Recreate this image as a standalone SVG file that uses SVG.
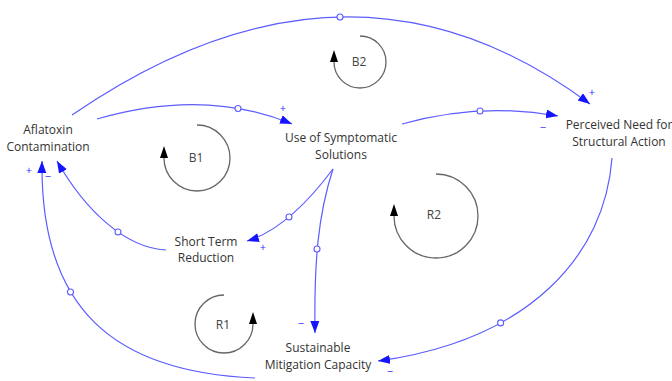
<svg xmlns="http://www.w3.org/2000/svg" width="672" height="381" viewBox="0 0 672 381">
<style>
.node text{font-family:"Open Sans","Noto Sans","DejaVu Sans",sans-serif;font-size:12px;fill:#333;text-anchor:middle}
.link{fill:none;stroke:#5c5cff;stroke-width:1.2;marker-end:url(#arr)}
.dot{fill:#fff;stroke:#5c5cff;stroke-width:1.1}
.pol{font-family:"Open Sans","Noto Sans","DejaVu Sans",sans-serif;font-size:11px;fill:#2a2aff;text-anchor:middle}
.loop path{fill:none;stroke:#666;stroke-width:1.3;marker-end:url(#larr)}
.loop text{font-family:"Open Sans","Noto Sans","DejaVu Sans",sans-serif;font-size:12px;fill:#444;text-anchor:middle}
</style>
<defs>
<marker id="arr" markerUnits="userSpaceOnUse" markerWidth="14" markerHeight="10" refX="12" refY="4.5" orient="auto"><path d="M0,0 L12,4.5 L0,9 z" fill="#1414ff"/></marker>
<marker id="larr" markerUnits="userSpaceOnUse" markerWidth="14" markerHeight="10" refX="0" refY="4" orient="auto"><path d="M0,0 L12,4 L0,8 z" fill="#000"/></marker>
</defs>
<rect width="672" height="381" fill="#fff"/>
<g id="connectors">
<path class="link" d="M72,115 Q349,-75.5 590,104"/>
<circle class="dot" cx="340" cy="17" r="3"/>
<path class="link" d="M97,119 Q205,88 292,124"/>
<circle class="dot" cx="238" cy="108.5" r="3"/>
<path class="link" d="M402,124 Q480,102 558,116"/>
<circle class="dot" cx="480" cy="111" r="3"/>
<path class="link" d="M333,169 Q288,229 247,241"/>
<circle class="dot" cx="289" cy="217" r="3"/>
<path class="link" d="M333,169 C318,215 314,262 315,333"/>
<circle class="dot" cx="317" cy="249" r="3"/>
<path class="link" d="M166,250 C125,248 85,210 57,161"/>
<circle class="dot" cx="118" cy="232" r="3"/>
<path class="link" d="M255,378 C115,372 40,310 42,161"/>
<circle class="dot" cx="70.5" cy="292" r="3"/>
<path class="link" d="M612,158 C605,255 530,340 378,361"/>
<circle class="dot" cx="500.6" cy="322.9" r="3"/>
<text class="pol" x="592" y="96">+</text>
<text class="pol" x="283" y="112">+</text>
<text class="pol" x="543" y="131">−</text>
<text class="pol" x="263" y="251">+</text>
<text class="pol" x="301" y="327">−</text>
<text class="pol" x="29" y="174">+</text>
<text class="pol" x="48" y="180">−</text>
<text class="pol" x="390" y="375">−</text>
</g>
<g id="aflatoxin" class="node"><text x="48" y="134">Aflatoxin</text><text x="48" y="151">Contamination</text></g>
<g id="symptomatic" class="node"><text x="341" y="142">Use of Symptomatic</text><text x="341" y="159">Solutions</text></g>
<g id="perceived" class="node"><text x="619" y="129">Perceived Need for</text><text x="619" y="146">Structural Action</text></g>
<g id="shortterm" class="node"><text x="206" y="246">Short Term</text><text x="206" y="262">Reduction</text></g>
<g id="sustainable" class="node"><text x="318" y="352">Sustainable</text><text x="318" y="369">Mitigation Capacity</text></g>
<g id="loopB2" class="loop"><path d="M360,36 A26,26 0 1,1 334,62"/><text x="359" y="66">B2</text></g>
<g id="loopB1" class="loop"><path d="M197,125 A33,33 0 1,1 164,158"/><text x="196" y="162">B1</text></g>
<g id="loopR2" class="loop"><path d="M436,174 A42,42 0 1,1 394,216"/><text x="434" y="219">R2</text></g>
<g id="loopR1" class="loop"><path d="M224,295 A29,29 0 1,0 253,324"/><text x="223" y="329">R1</text></g>
</svg>
